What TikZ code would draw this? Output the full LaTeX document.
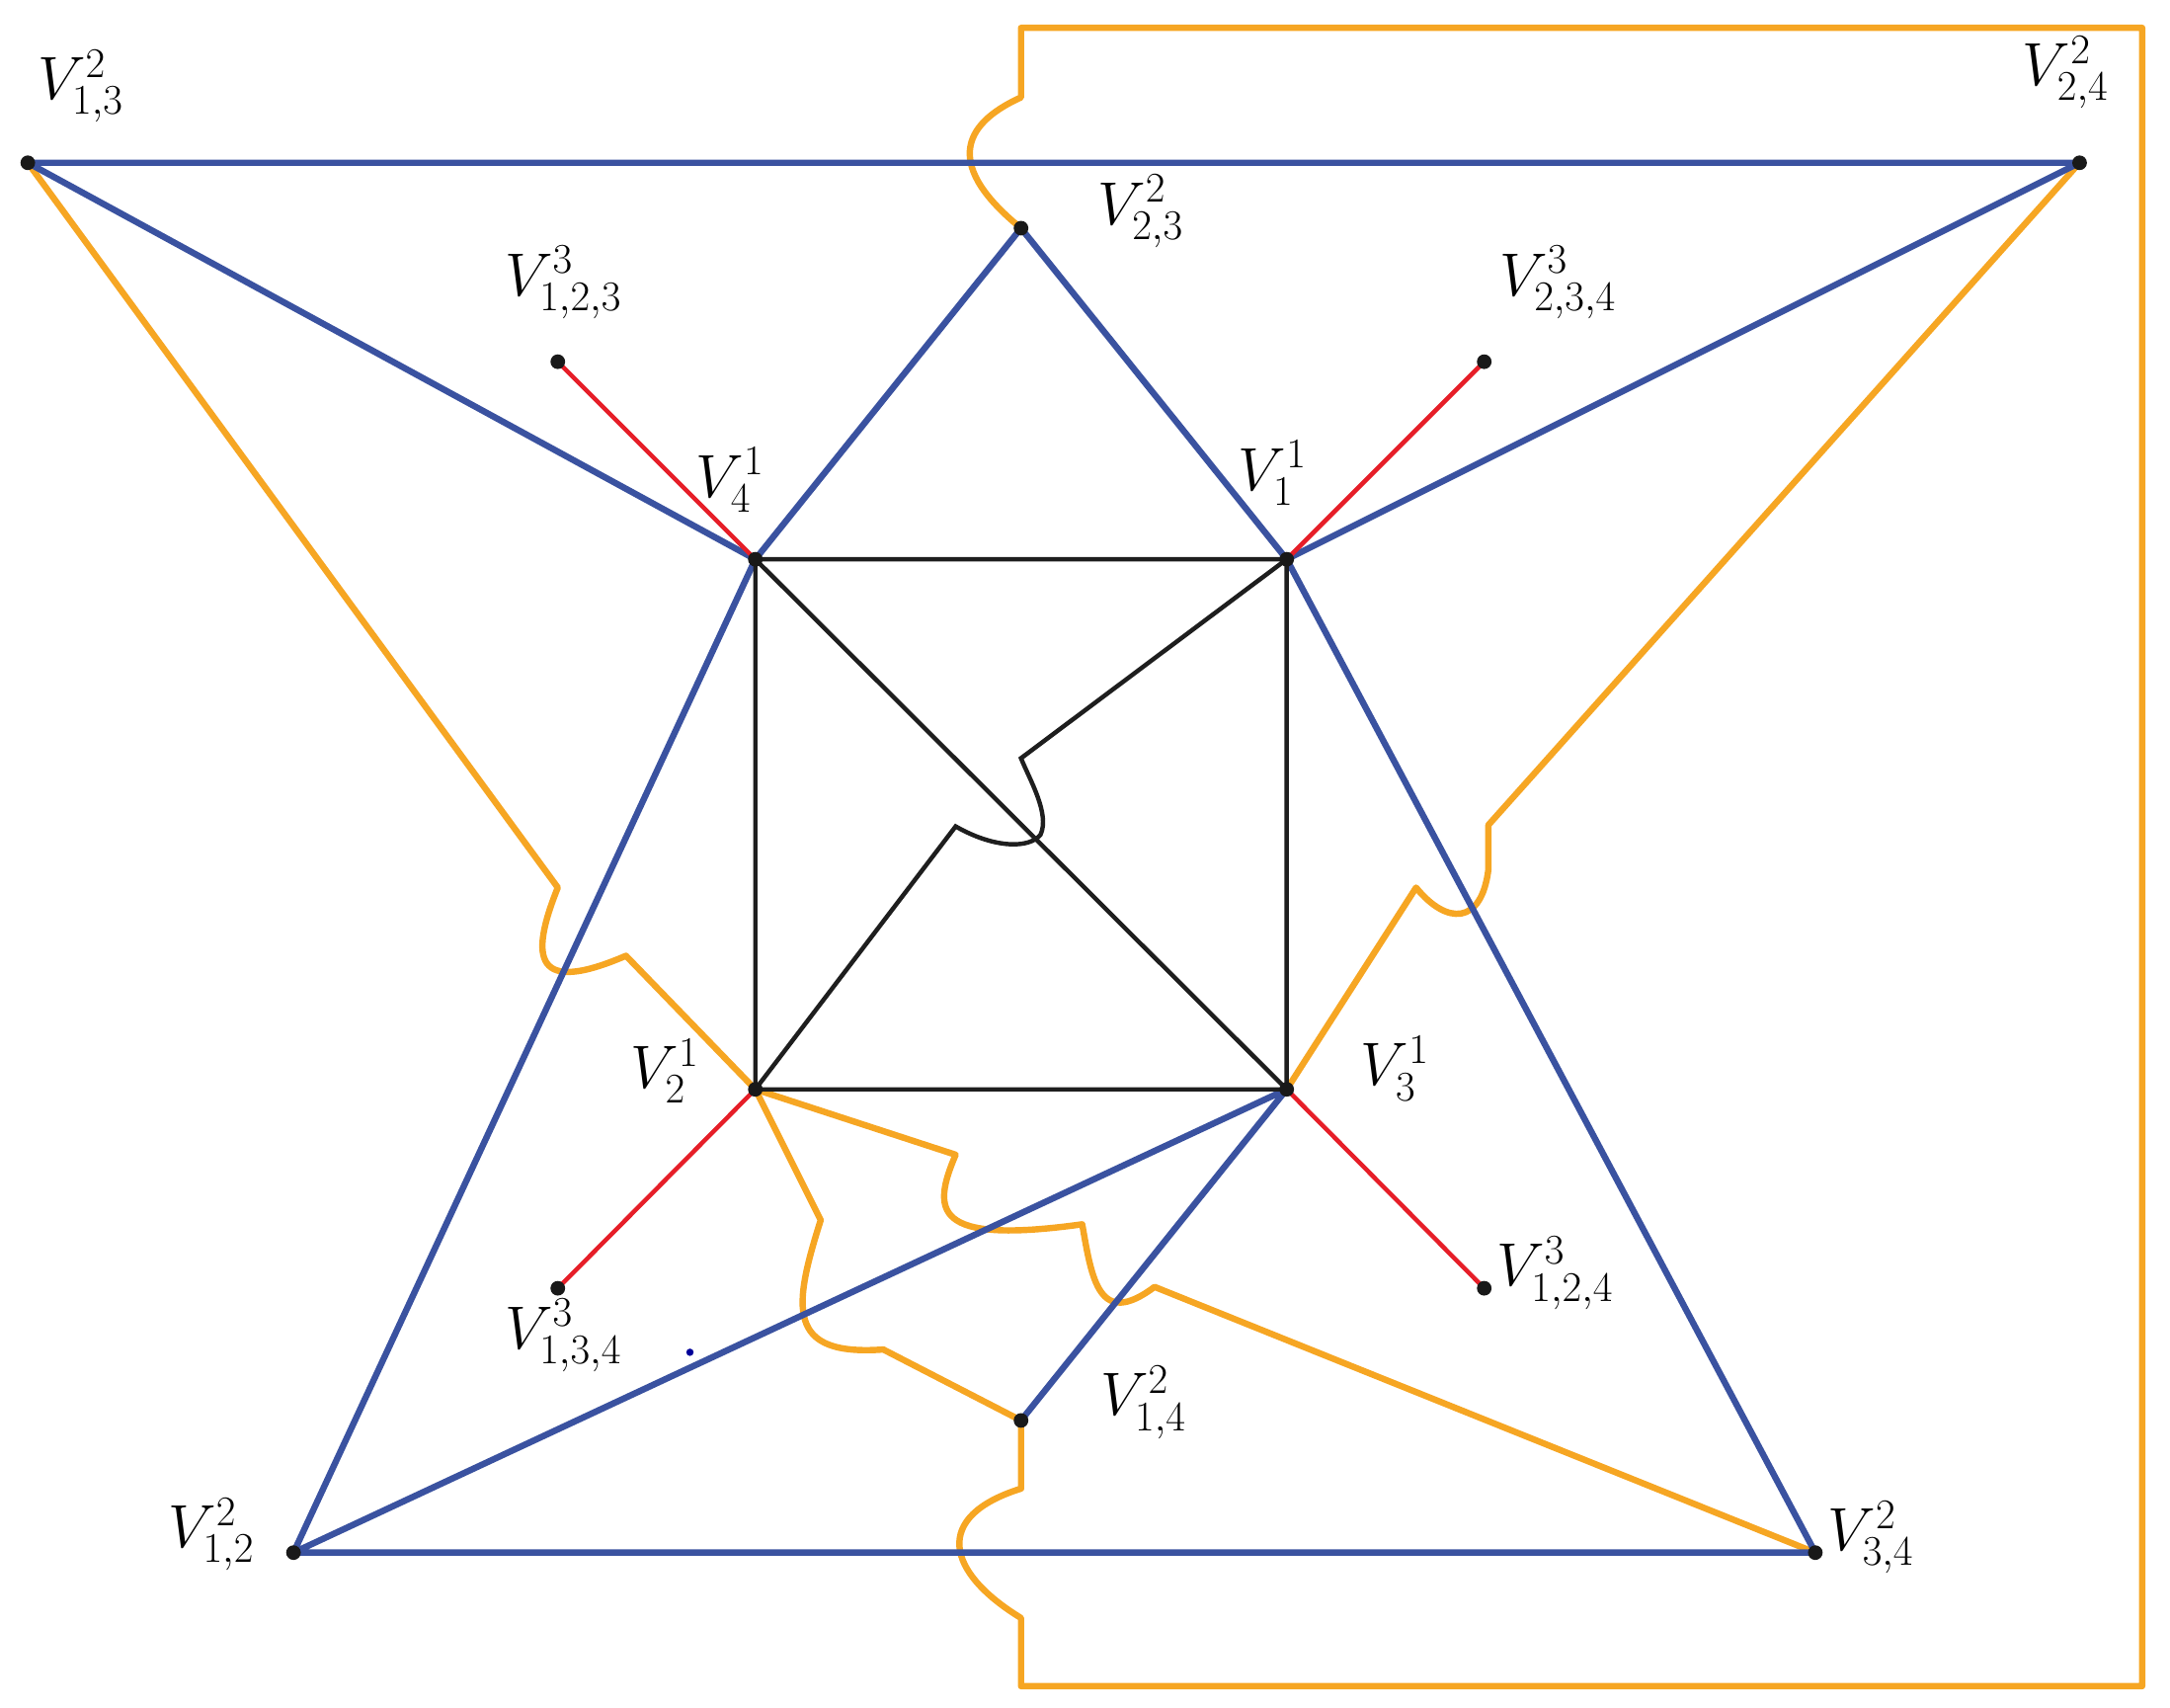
\documentclass[tikz,border=0pt]{standalone}
\begin{document}
\begin{tikzpicture}[x=0.02cm,y=-0.02cm,
 bl/.style={draw={rgb,255:red,58;green,82;blue,160},line width=2.6pt},
 rd/.style={draw={rgb,255:red,230;green,30;blue,40},line width=1.8pt},
 bk/.style={draw={rgb,255:red,30;green,30;blue,30},line width=1.8pt},
 og/.style={draw={rgb,255:red,246;green,166;blue,35},line width=2.6pt,line join=round},
 dot/.style={circle,fill={rgb,255:red,25;green,25;blue,25},inner sep=0pt,minimum size=6pt},
 lab/.style={font=\fontsize{26}{30}\selectfont}]
\useasboundingbox (0,0) rectangle (1560,1227);
\foreach \n/\x/\y in {a13/20/117,a24/1495/117,a23/734/164,b123/401/260,b234/1067/260,v4/543/402,v1/925/402,v2/543/783,v3/925/783,b134/401/926,b124/1067/926,a14/734/1021,a12/211/1116,a34/1305/1116}
 \coordinate (\n) at (\x,\y);
% orange
\draw[og] (a13) -- (401,638) .. controls (380,690) and (385,715) .. (450,687) -- (v2);
\draw[og] (a24) -- (1070,593) -- (1070,625) .. controls (1065,665) and (1040,665) .. (1018,638) -- (v3);
\draw[og] (a23) .. controls (680,120) and (690,90) .. (734,70) -- (734,20) -- (1540,20) -- (1540,1212) -- (734,1212) -- (734,1163) .. controls (680,1130) and (670,1090) .. (734,1070) -- (a14);
\draw[og] (v2) -- (590,877) .. controls (570,940) and (565,975) .. (635,970) -- (a14);
\draw[og] (v2) -- (687,830) .. controls (670,870) and (670,895) .. (778,880) .. controls (785,920) and (790,955) .. (830,925) -- (a34);
% blue
\draw[bl] (a13)--(a24) (a13)--(v4) (a24)--(v1) (a23)--(v4) (a23)--(v1) (v4)--(a12) (v1)--(a34) (a12)--(a34) (a12)--(v3) (v3)--(a14);
% red
\draw[rd] (v4)--(b123) (v1)--(b234) (v2)--(b134) (v3)--(b124);
% black
\draw[bk] (v4)--(v1)--(v3)--(v2)--cycle (v4)--(v3);
\draw[bk] (v2) -- (687,594) .. controls (715,610) and (740,610) .. (748,600) .. controls (755,585) and (740,560) .. (734,545) -- (v1);
\fill[blue!60!black] (496,972) circle (1.5pt);
\foreach \n in {a13,a24,a23,b123,b234,v4,v1,v2,v3,b134,b124,a14,a12,a34} \node[dot] (d\n) at (\n) {};
\node[lab] (l13) at (58,62) {$V^2_{1,3}$};
\node[lab] (l24) at (1485,52) {$V^2_{2,4}$};
\node[lab] (l23) at (820,152) {$V^2_{2,3}$};
\node[lab] (l123) at (405,203) {$V^3_{1,2,3}$};
\node[lab] (l234) at (1120,203) {$V^3_{2,3,4}$};
\node[lab] (l4) at (525,345) {$V^1_4$};
\node[lab] (l1) at (915,340) {$V^1_1$};
\node[lab] (l2) at (478,770) {$V^1_2$};
\node[lab] (l3) at (1003,768) {$V^1_3$};
\node[lab] (l134) at (405,960) {$V^3_{1,3,4}$};
\node[lab] (l124) at (1118,915) {$V^3_{1,2,4}$};
\node[lab] (l14) at (822,1008) {$V^2_{1,4}$};
\node[lab] (l12) at (152,1103) {$V^2_{1,2}$};
\node[lab] (l34) at (1345,1105) {$V^2_{3,4}$};
\end{tikzpicture}
\end{document}
